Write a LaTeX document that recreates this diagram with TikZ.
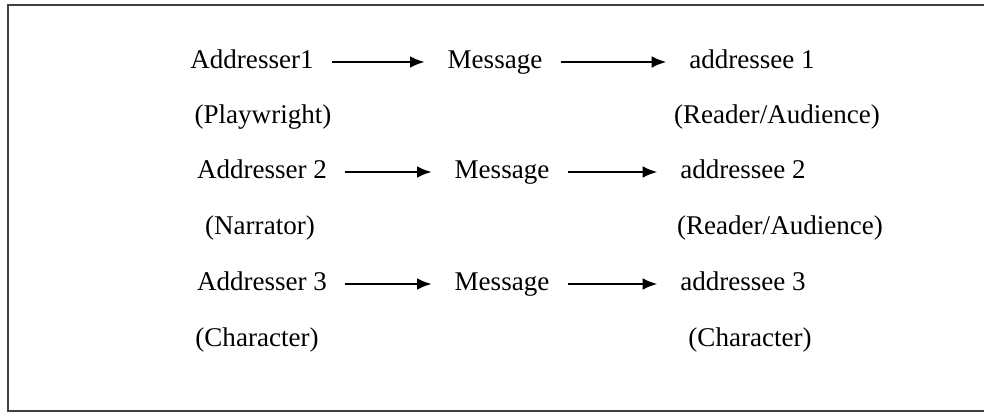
\documentclass[tikz,border=0pt]{standalone}
\usepackage{fontspec}
\setmainfont{Liberation Serif}
\usetikzlibrary{arrows.meta,positioning}

\begin{document}
\begin{tikzpicture}
		[x=0.0156cm, y=-0.0156cm,
		word/.style ={inner sep=0pt, font=\fontsize{12}{14}\selectfont, text height=8.5pt, text depth=2.5pt},
		line/.style ={draw, line width=0.9pt, -{Latex[length=6.5pt,width=5.2pt]}, shorten <=8pt, shorten >=10pt},
		frame/.style ={draw=black!75, line width=1.1pt},
		]
		\useasboundingbox (0,0) rectangle (984,414);
		\draw[frame] (8,5) rectangle (1000,411);

		\draw (252,62) node[word] (A1) {Addresser1};
		\draw (495,62) node[word] (M1) {Message};
		\draw (752,62) node[word] (B1) {addressee 1};
		\draw (263,117) node[word] (P1) {(Playwright)};
		\draw (777,117) node[word] (Q1) {(Reader/Audience)};

		\draw (262,172) node[word] (A2) {Addresser 2};
		\draw (502,172) node[word] (M2) {Message};
		\draw (743,172) node[word] (B2) {addressee 2};
		\draw (260,228) node[word] (P2) {(Narrator)};
		\draw (780,228) node[word] (Q2) {(Reader/Audience)};

		\draw (262,284) node[word] (A3) {Addresser 3};
		\draw (502,284) node[word] (M3) {Message};
		\draw (743,284) node[word] (B3) {addressee 3};
		\draw (257,340) node[word] (P3) {(Character)};
		\draw (750,340) node[word] (Q3) {(Character)};

		\path[line]
		(A1) edge node {} (M1)
		(M1) edge node {} (B1)
		(A2) edge node {} (M2)
		(M2) edge node {} (B2)
		(A3) edge node {} (M3)
		(M3) edge node {} (B3);
	\end{tikzpicture}
\end{document}
